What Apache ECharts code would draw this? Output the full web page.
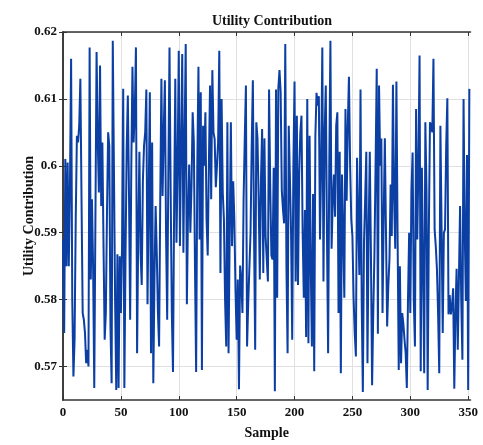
<!DOCTYPE html>
<html>
<head>
<meta charset="utf-8">
<script src="https://cdn.jsdelivr.net/npm/echarts@6/dist/echarts.min.js"></script>
<style>
html,body{margin:0;padding:0;background:#fff;}
#chart{width:483px;height:445px;}
</style>
</head>
<body>
<div id="chart"></div>
<script>
var titleText = 'Utility Contribution';
var xName = 'Sample';
var yName = 'Utility Contribution';
var xTicks = [0, 50, 100, 150, 200, 250, 300, 350];
var yTicks = [0.57, 0.58, 0.59, 0.6, 0.61, 0.62];
var values = [
0.589,0.575,0.601,0.585,0.6005,0.585,0.597,0.616,0.580,0.5685,
0.574,0.592,0.6045,0.6035,0.606,0.613,0.595,0.578,0.577,0.575,
0.5705,0.5725,0.570,0.6177,0.583,0.595,0.585,0.5668,0.592,0.617,
0.604,0.596,0.615,0.594,0.6035,0.588,0.574,0.578,0.593,0.605,
0.603,0.576,0.5675,0.6187,0.5995,0.580,0.5665,0.5868,0.5668,0.5865,
0.578,0.588,0.6115,0.5668,0.5865,0.6025,0.6105,0.596,0.577,0.600,
0.6148,0.6035,0.608,0.6177,0.572,0.590,0.6021,0.587,0.5822,0.5977,
0.603,0.605,0.6114,0.5793,0.595,0.611,0.572,0.6035,0.5675,0.583,
0.594,0.587,0.578,0.573,0.595,0.613,0.5955,0.605,0.6128,0.590,
0.577,0.599,0.6177,0.596,0.578,0.5692,0.594,0.613,0.5885,0.600,
0.6172,0.588,0.603,0.6167,0.587,0.604,0.6182,0.5793,0.593,0.6002,
0.590,0.597,0.608,0.6036,0.585,0.5692,0.600,0.6148,0.589,0.611,
0.5695,0.6060,0.600,0.608,0.592,0.5866,0.600,0.612,0.595,0.6143,
0.605,0.604,0.5968,0.600,0.6036,0.6172,0.584,0.6100,0.596,0.592,
0.580,0.573,0.6065,0.572,0.590,0.6065,0.588,0.5977,0.592,0.5815,
0.574,0.583,0.5666,0.5851,0.583,0.578,0.595,0.604,0.612,0.573,
0.5795,0.5793,0.590,0.603,0.6128,0.590,0.5725,0.6065,0.6041,0.595,
0.583,0.598,0.6055,0.584,0.6041,0.5895,0.5860,0.5827,0.6114,0.597,
0.5866,0.5860,0.5997,0.5663,0.6114,0.5803,0.6116,0.6143,0.611,0.5963,
0.5935,0.5914,0.6182,0.585,0.572,0.6060,0.5982,0.590,0.574,0.600,
0.6126,0.5827,0.6075,0.5822,0.5987,0.605,0.6075,0.590,0.5803,0.5934,
0.5744,0.610,0.5735,0.6045,0.585,0.573,0.5958,0.5693,0.6045,0.6109,
0.609,0.6104,0.5890,0.600,0.6177,0.5827,0.605,0.612,0.590,0.572,
0.600,0.6187,0.5876,0.5948,0.5987,0.5924,0.6060,0.608,0.578,0.6021,
0.569,0.5987,0.590,0.5803,0.6085,0.5948,0.6060,0.6133,0.6002,0.592,
0.5895,0.5803,0.575,0.5715,0.6012,0.592,0.5837,0.6114,0.580,0.5662,
0.5885,0.595,0.6021,0.5705,0.590,0.6021,0.5866,0.5672,0.578,0.5866,
0.600,0.6145,0.5749,0.612,0.600,0.6041,0.578,0.592,0.6041,0.590,
0.576,0.582,0.5860,0.5972,0.5895,0.6121,0.595,0.5876,0.6126,0.590,
0.5695,0.585,0.5705,0.578,0.5764,0.574,0.572,0.5668,0.580,0.5900,
0.578,0.5963,0.6020,0.580,0.573,0.6085,0.5890,0.600,0.6165,0.5693,
0.5997,0.585,0.569,0.6065,0.5963,0.5665,0.590,0.6065,0.6060,0.605,
0.616,0.5905,0.588,0.5846,0.578,0.5690,0.606,0.5909,0.575,0.590,
0.5905,0.603,0.6101,0.5778,0.5807,0.5778,0.5790,0.5817,0.5667,0.578,
0.5846,0.5725,0.5725,0.594,0.580,0.5710,0.610,0.5905,0.5798,0.6016,
0.5665,0.6115
];
var xMin = 0, xMax = 352, yMin = 0.565, yMax = 0.62;

var data = values.map(function (v, i) { return [i, v]; });
var font = 'Liberation Serif';
var axisColor = '#333333';
var gridColor = '#e0e0e0';

var chart = echarts.init(document.getElementById('chart'), null, {renderer: 'canvas'});
function fmtY(v) { return String(parseFloat(v.toFixed(2))); }
chart.setOption({
  animation: false,
  backgroundColor: '#ffffff',
  title: {
    text: titleText, left: 267, top: 9, textAlign: 'center',
    textStyle: {fontFamily: font, fontWeight: 'bold', fontSize: 14, color: '#111'}
  },
  grid: {left: 63, right: 12.5, top: 32, bottom: 37, containLabel: false},
  xAxis: [{
    type: 'value', min: xMin, max: xMax, position: 'bottom',
    name: xName, nameLocation: 'middle', nameGap: 26, nameMoveOverlap: false,
    nameTextStyle: {fontFamily: font, fontWeight: 'bold', fontSize: 14, color: '#111'},
    axisLine: {show: true, lineStyle: {color: axisColor, width: 1.5}},
    axisTick: {show: true, inside: true, length: 4, customValues: xTicks, lineStyle: {color: axisColor}},
    axisLabel: {customValues: xTicks, fontFamily: font, fontWeight: 'bold', fontSize: 13, color: '#111', margin: 6},
    splitLine: {show: true, lineStyle: {color: gridColor, width: 1}}
  }, {
    type: 'value', min: xMin, max: xMax, position: 'top',
    axisLine: {show: true, lineStyle: {color: axisColor, width: 1.5}},
    axisTick: {show: true, inside: true, length: 4, customValues: xTicks, lineStyle: {color: axisColor}},
    axisLabel: {show: false, customValues: xTicks},
    splitLine: {show: false}
  }],
  yAxis: [{
    type: 'value', min: yMin, max: yMax, position: 'left',
    name: yName, nameLocation: 'middle', nameGap: 27, nameRotate: 90, nameMoveOverlap: false,
    nameTextStyle: {fontFamily: font, fontWeight: 'bold', fontSize: 14, color: '#111'},
    axisLine: {show: true, lineStyle: {color: axisColor, width: 1.5}},
    axisTick: {show: true, inside: true, length: 4, customValues: yTicks, lineStyle: {color: axisColor}},
    axisLabel: {customValues: yTicks, formatter: fmtY, fontFamily: font, fontWeight: 'bold', fontSize: 13, color: '#111', margin: 6},
    splitLine: {show: true, lineStyle: {color: gridColor, width: 1}}
  }, {
    type: 'value', min: yMin, max: yMax, position: 'right',
    axisLine: {show: true, lineStyle: {color: axisColor, width: 1.5}},
    axisTick: {show: true, inside: true, length: 4, customValues: yTicks, lineStyle: {color: axisColor}},
    axisLabel: {show: false, customValues: yTicks},
    splitLine: {show: false}
  }],
  series: [{
    type: 'line', data: data, xAxisIndex: 0, yAxisIndex: 0,
    showSymbol: false, symbol: 'none',
    lineStyle: {color: '#0b3fa3', width: 2},
    z: 3
  }]
});
</script>
</body>
</html>
